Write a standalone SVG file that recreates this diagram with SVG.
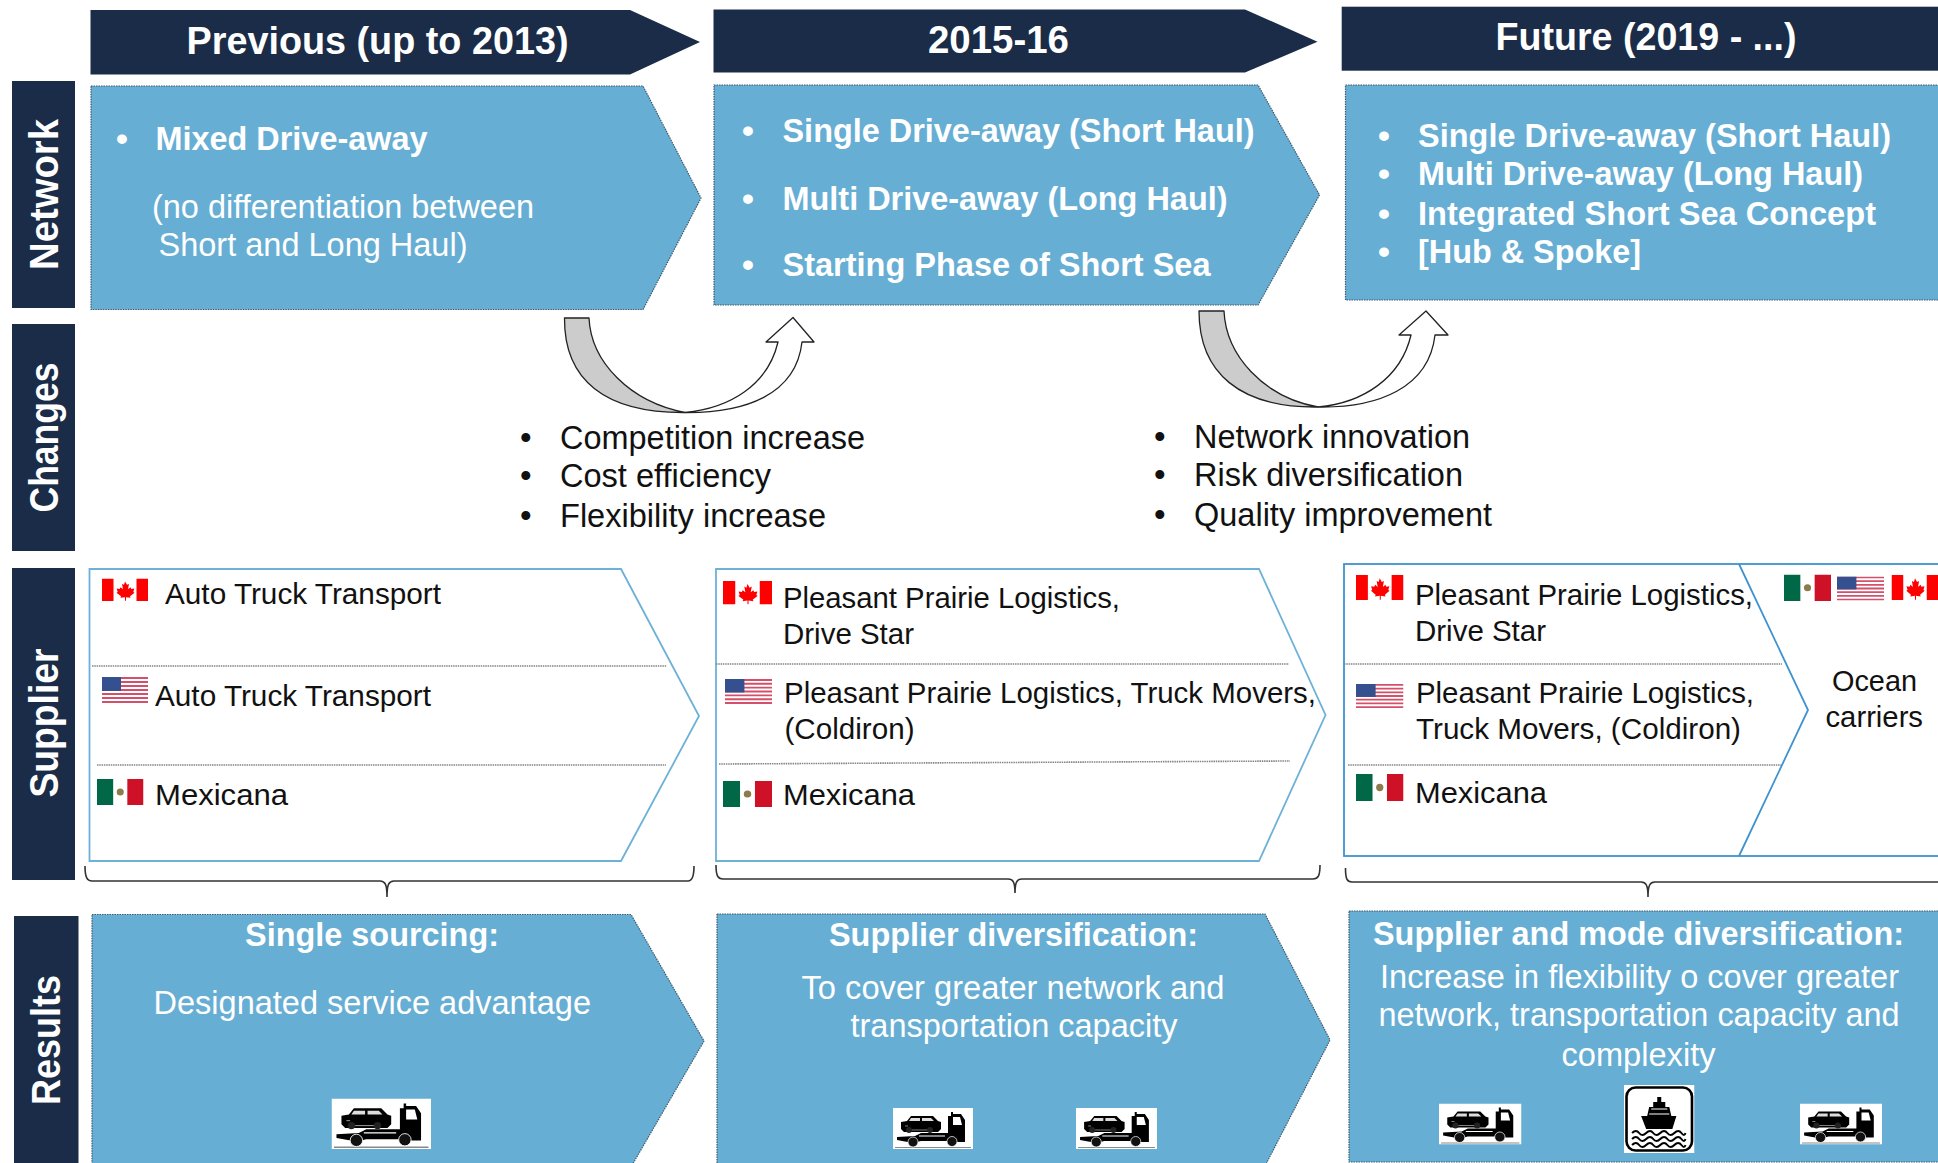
<svg xmlns="http://www.w3.org/2000/svg" width="1938" height="1163" viewBox="0 0 1938 1163">
<style>
text{font-family:"Liberation Sans",Arial,sans-serif;}
.navy{fill:#1a2c47;}
.blue{fill:#67aed4;stroke:#3c5a6e;stroke-width:1.2;stroke-dasharray:1.5 1;}
.sup{fill:#fff;stroke:#6db1d8;stroke-width:1.8;}
.sup3{fill:#fff;stroke:#3d93d0;stroke-width:1.8;}
.div{fill:none;stroke:#858585;stroke-width:1.6;stroke-dasharray:1.5 .8;}
.brace{fill:none;stroke:#333;stroke-width:1.6;}
.ag{fill:#cccccc;stroke:#222;stroke-width:1.3;stroke-linejoin:round;}
.aw{fill:#fff;stroke:#222;stroke-width:1.3;stroke-linejoin:round;}
.hd{fill:#fff;font-weight:bold;font-size:38px;}
.sd{fill:#fff;font-weight:bold;font-size:40px;}
.wb{fill:#fff;font-weight:bold;font-size:34px;}
.wr{fill:#fff;font-size:34px;}
.bk{fill:#111;font-size:33px;}
.sp{fill:#111;font-size:30px;}
</style>
<defs>
<symbol id="fCA" viewBox="0 0 46 23" preserveAspectRatio="none">
<rect width="46" height="23" fill="#fff"/><rect width="11.5" height="23" fill="#f00"/><rect x="34.5" width="11.5" height="23" fill="#f00"/>
<path d="M23 3l2 3.5 2-1-1 5.500 2.500-2 .8 1.800 3-.5-1 3.500 1.200.8-4.500 3.500.5 1.700-4.500-.6v3.500h-1v-3.500l-4.500.6.500-1.700-4.500-3.500 1.200-.8-1-3.500 3 .5.800-1.800 2.500 2-1-5.500 2 1z" fill="#f00"/>
</symbol>
<symbol id="fUS" viewBox="0 0 46 26" preserveAspectRatio="none">
<rect width="46" height="26" fill="#fff"/>
<path d="M0 1h46M0 5h46M0 9h46M0 13h46M0 17h46M0 21h46M0 25h46" stroke="#d4506a" stroke-width="2"/>
<rect width="19" height="14" fill="#35508f"/>
</symbol>
<symbol id="fMX" viewBox="0 0 46 26" preserveAspectRatio="none">
<rect width="46" height="26" fill="#fff"/><rect width="16" height="26" fill="#006847"/><rect x="30" width="16" height="26" fill="#ce1126"/>
<circle cx="23" cy="13" r="3.500" fill="#8d7b4e"/>
</symbol>
<symbol id="truck" viewBox="0 0 80 41" preserveAspectRatio="none">
<rect width="80" height="41" fill="#fff"/>
<path d="M2 39.500H78" stroke="#888" stroke-width="1.200"/>
<path d="M8 14l6-1 4-5h22l5 5 3 1v7l-3 3H11l-3-3z" fill="#000"/>
<path d="M18 10h9v3h-11zM29 10h9l3 3H29z" fill="#ddd"/>
<path d="M55 24V8h3V4h2v2h8l4 6v22H55z" fill="#000"/>
<path d="M60 9h7l2 8h-9z" fill="#fff"/>
<path d="M4 29l18-1 6-3h28v8H28l-8 2-16-3z" fill="#000"/><path d="M26 28h26" stroke="#fff" stroke-width="1"/>
<circle cx="20" cy="34" r="5" fill="#111" stroke="#fff" stroke-width=".7"/><circle cx="59" cy="33.500" r="5" fill="#111" stroke="#fff" stroke-width=".7"/>
<path d="M14 22h24M12 18h3" stroke="#fff" stroke-width=".5"/>
<circle cx="16" cy="22" r="3" fill="#222"/><circle cx="37" cy="22" r="3" fill="#222"/>
</symbol>
<symbol id="ship" viewBox="0 0 70 68" preserveAspectRatio="none">
<rect width="70" height="68" fill="#fff"/>
<rect x="2.500" y="2.500" width="65" height="63" rx="9" fill="#fff" stroke="#000" stroke-width="2.600"/>
<path d="M33 12h4v5h4v5h4l2 9h5l-4 13H22l-5-13h6l2-9h4v-5h4z" fill="#000"/>
<path d="M27 24h16M25 29h20" stroke="#fff" stroke-width="1"/>
<path d="M8 48q4-4 7 0t7 0 7 0 7 0 7 0 7 0 7 0 4 0M8 54q4-4 7 0t7 0 7 0 7 0 7 0 7 0 7 0 4 0M8 60q4-4 7 0t7 0 7 0 7 0 7 0 7 0 7 0 4 0" fill="none" stroke="#000" stroke-width="2"/>
</symbol>
</defs>
<rect width="1938" height="1163" fill="#fff"/>

<g id="row-network-label"><rect class="navy" x="12" y="81" width="63" height="227"/><text class="sd" transform="translate(58 270) rotate(-90)" textLength="151" lengthAdjust="spacingAndGlyphs">Network</text></g>
<g id="row-changes-label"><rect class="navy" x="12" y="324" width="63" height="227"/><text class="sd" transform="translate(58 512.500) rotate(-90)" textLength="150" lengthAdjust="spacingAndGlyphs">Changes</text></g>
<g id="row-supplier-label"><rect class="navy" x="12" y="568" width="63" height="312"/><text class="sd" transform="translate(58 797.500) rotate(-90)" textLength="149" lengthAdjust="spacingAndGlyphs">Supplier</text></g>
<g id="row-results-label"><rect class="navy" x="14" y="916" width="64.500" height="250"/><text class="sd" transform="translate(60 1105) rotate(-90)" textLength="130" lengthAdjust="spacingAndGlyphs">Results</text></g>

<g id="header-previous"><polygon class="navy" points="90.500,10 630,10 700,42 630,74.500 90.500,74.500"/><text class="hd" x="186.500" y="54" textLength="382" lengthAdjust="spacingAndGlyphs">Previous (up to 2013)</text></g>
<g id="header-2015"><polygon class="navy" points="713.500,9.500 1245,9.500 1317.500,41.700 1245,72.500 713.500,72.500"/><text class="hd" x="928" y="53" textLength="141" lengthAdjust="spacingAndGlyphs">2015-16</text></g>
<g id="header-future"><rect class="navy" x="1341.700" y="6.700" width="600" height="64"/><text class="hd" x="1495.500" y="50" textLength="301" lengthAdjust="spacingAndGlyphs">Future (2019 - ...)</text></g>

<g id="network-previous"><polygon class="blue" points="91,86 643,86 701,198 643,309.500 91,309.500"/>
<text class="wb" x="116" y="150">•</text><text class="wb" x="155.500" y="150" textLength="272" lengthAdjust="spacingAndGlyphs">Mixed Drive-away</text>
<text class="wr" x="152" y="218" textLength="382" lengthAdjust="spacingAndGlyphs">(no differentiation between</text>
<text class="wr" x="158.500" y="256" textLength="309" lengthAdjust="spacingAndGlyphs">Short and Long Haul)</text></g>
<g id="network-2015"><polygon class="blue" points="714,85 1258,85 1319.500,195 1258,305 714,305"/>
<text class="wb" x="742" y="141.500">•</text><text class="wb" x="782.500" y="141.500" textLength="472" lengthAdjust="spacingAndGlyphs">Single Drive-away (Short Haul)</text>
<text class="wb" x="742" y="209.500">•</text><text class="wb" x="782.500" y="209.500" textLength="445" lengthAdjust="spacingAndGlyphs">Multi Drive-away (Long Haul)</text>
<text class="wb" x="742" y="276">•</text><text class="wb" x="782.500" y="276" textLength="428" lengthAdjust="spacingAndGlyphs">Starting Phase of Short Sea</text></g>
<g id="network-future"><rect class="blue" x="1345.500" y="85" width="600" height="215"/>
<text class="wb" x="1378" y="146.500">•</text><text class="wb" x="1418" y="146.500" textLength="473" lengthAdjust="spacingAndGlyphs">Single Drive-away (Short Haul)</text>
<text class="wb" x="1378" y="185">•</text><text class="wb" x="1418" y="185" textLength="445" lengthAdjust="spacingAndGlyphs">Multi Drive-away (Long Haul)</text>
<text class="wb" x="1378" y="225">•</text><text class="wb" x="1418" y="225" textLength="458" lengthAdjust="spacingAndGlyphs">Integrated Short Sea Concept</text>
<text class="wb" x="1378" y="263">•</text><text class="wb" x="1418" y="263" textLength="223" lengthAdjust="spacingAndGlyphs">[Hub &amp; Spoke]</text></g>

<g id="changes-1">
<text class="bk" x="520" y="449">•</text><text class="bk" x="560" y="449" textLength="305" lengthAdjust="spacingAndGlyphs">Competition increase</text>
<text class="bk" x="520" y="487">•</text><text class="bk" x="560" y="487" textLength="211" lengthAdjust="spacingAndGlyphs">Cost efficiency</text>
<text class="bk" x="520" y="527">•</text><text class="bk" x="560" y="527" textLength="266" lengthAdjust="spacingAndGlyphs">Flexibility increase</text></g>
<g id="changes-2">
<text class="bk" x="1154" y="447.500">•</text><text class="bk" x="1194" y="447.500" textLength="276" lengthAdjust="spacingAndGlyphs">Network innovation</text>
<text class="bk" x="1154" y="486">•</text><text class="bk" x="1194" y="486" textLength="269" lengthAdjust="spacingAndGlyphs">Risk diversification</text>
<text class="bk" x="1154" y="525.500">•</text><text class="bk" x="1194" y="525.500" textLength="298" lengthAdjust="spacingAndGlyphs">Quality improvement</text></g>

<g id="supplier-previous"><polygon class="sup" points="89.500,569 621,569 699,716 621,861 89.500,861"/>
<path class="div" d="M92 666H667M97 765H666"/>
<use href="#fCA" x="102" y="578.500" width="46" height="22.500"/><text class="sp" x="165" y="604" textLength="276" lengthAdjust="spacingAndGlyphs">Auto Truck Transport</text>
<use href="#fUS" x="102" y="677" width="46" height="26"/><text class="sp" x="155" y="705.500" textLength="276" lengthAdjust="spacingAndGlyphs">Auto Truck Transport</text>
<use href="#fMX" x="97" y="779" width="46.500" height="26"/><text class="sp" x="155" y="804.500" textLength="133" lengthAdjust="spacingAndGlyphs">Mexicana</text></g>
<g id="supplier-2015"><polygon class="sup" points="716,569 1259,569 1325.500,715 1259,861 716,861"/>
<path class="div" d="M716 664H1289M719 764L1290 761"/>
<use href="#fCA" x="723" y="581" width="49" height="23.500"/><text class="sp" x="783" y="607.500" textLength="337" lengthAdjust="spacingAndGlyphs">Pleasant Prairie Logistics,</text><text class="sp" x="783" y="644" textLength="131" lengthAdjust="spacingAndGlyphs">Drive Star</text>
<use href="#fUS" x="725" y="679" width="47" height="25"/><text class="sp" x="784" y="702.500" textLength="532" lengthAdjust="spacingAndGlyphs">Pleasant Prairie Logistics, Truck Movers,</text><text class="sp" x="784.500" y="739" textLength="130" lengthAdjust="spacingAndGlyphs">(Coldiron)</text>
<use href="#fMX" x="723" y="781" width="49" height="26"/><text class="sp" x="783" y="805" textLength="132" lengthAdjust="spacingAndGlyphs">Mexicana</text></g>
<g id="supplier-future"><rect class="sup3" x="1344" y="564" width="600" height="292"/><polyline class="sup3" style="fill:none" points="1739,564 1808,710 1739,856"/>
<path class="div" d="M1344 664H1782M1348 765H1781"/>
<use href="#fCA" x="1356" y="575" width="47.500" height="25"/><text class="sp" x="1415" y="604.500" textLength="338" lengthAdjust="spacingAndGlyphs">Pleasant Prairie Logistics,</text><text class="sp" x="1415" y="640.500" textLength="131" lengthAdjust="spacingAndGlyphs">Drive Star</text>
<use href="#fUS" x="1356" y="684" width="47.500" height="24"/><text class="sp" x="1416" y="702.500" textLength="338" lengthAdjust="spacingAndGlyphs">Pleasant Prairie Logistics,</text><text class="sp" x="1416" y="739" textLength="325" lengthAdjust="spacingAndGlyphs">Truck Movers, (Coldiron)</text>
<use href="#fMX" x="1356" y="774" width="47.500" height="27"/><text class="sp" x="1415" y="803" textLength="132" lengthAdjust="spacingAndGlyphs">Mexicana</text></g>
<g id="supplier-ocean">
<use href="#fMX" x="1784" y="574.500" width="47" height="26.500"/><use href="#fUS" x="1837" y="576.500" width="47" height="24"/><use href="#fCA" x="1891.500" y="575" width="47" height="25"/>
<text class="sp" x="1832" y="691" textLength="85" lengthAdjust="spacingAndGlyphs">Ocean</text><text class="sp" x="1825.500" y="726.500" textLength="97.500" lengthAdjust="spacingAndGlyphs">carriers</text></g>

<g id="results-previous"><polygon class="blue" points="92,914.500 631,914.500 704,1041 631,1167 92,1167"/>
<text class="wb" x="245" y="946" textLength="254" lengthAdjust="spacingAndGlyphs">Single sourcing:</text>
<text class="wr" x="153.500" y="1014" textLength="437.500" lengthAdjust="spacingAndGlyphs">Designated service advantage</text>
<use href="#truck" x="331.500" y="1098.500" width="99.500" height="50.500"/></g>
<g id="results-2015"><polygon class="blue" points="717,914 1265,914 1330,1040 1265,1166 717,1166"/>
<text class="wb" x="829" y="946" textLength="369" lengthAdjust="spacingAndGlyphs">Supplier diversification:</text>
<text class="wr" x="801.500" y="998.500" textLength="423" lengthAdjust="spacingAndGlyphs">To cover greater network and</text>
<text class="wr" x="850.500" y="1037" textLength="327" lengthAdjust="spacingAndGlyphs">transportation capacity</text>
<use href="#truck" x="893" y="1108" width="80" height="41"/><use href="#truck" x="1076" y="1108" width="81" height="41"/></g>
<g id="results-future"><rect class="blue" x="1349" y="911" width="600" height="251"/>
<text class="wb" x="1373" y="945" textLength="531" lengthAdjust="spacingAndGlyphs">Supplier and mode diversification:</text>
<text class="wr" x="1380" y="988" textLength="519" lengthAdjust="spacingAndGlyphs">Increase in flexibility o cover greater</text>
<text class="wr" x="1378.500" y="1026" textLength="521" lengthAdjust="spacingAndGlyphs">network, transportation capacity and</text>
<text class="wr" x="1561.500" y="1066" textLength="154" lengthAdjust="spacingAndGlyphs">complexity</text>
<use href="#truck" x="1439" y="1103.500" width="82.500" height="41"/><use href="#ship" x="1624" y="1085" width="70.500" height="68"/><use href="#truck" x="1800" y="1103.500" width="82" height="41"/></g>

<g id="connectors">
<path class="ag" d="M564.500 318H589C591 362 630 402 685 412.500C605 413 564 380 564.500 318Z"/>
<path class="aw" d="M685 412.500C730 408 768 385 778 342H766L793 317.500L814 342H802C796 395 745 413 685 412.500Z"/>
<path class="ag" d="M1199 311H1224C1226 355 1263 397 1318 407C1240 408 1199 373 1199 311Z"/>
<path class="aw" d="M1318 407C1363 403 1401 378 1411 335H1399L1426 311L1448 335H1435C1429 388 1378 408 1318 407Z"/>
<path class="brace" d="M85 866C85 877 87 881 92 881H380C385 881 387 884 387 897C387 884 389 881 394 881H688C692 881 694 877 694 866"/>
<path class="brace" d="M716 865C716 876 718 879 723 879H1008C1013 879 1015 882 1015 893C1015 882 1017 879 1022 879H1313C1318 879 1320 876 1320 865"/>
<path class="brace" d="M1345.500 868C1345.500 879 1347 882 1352 882H1641C1646 882 1648 885 1648 897C1648 885 1650 882 1655 882H1945"/>
</g>
</svg>
